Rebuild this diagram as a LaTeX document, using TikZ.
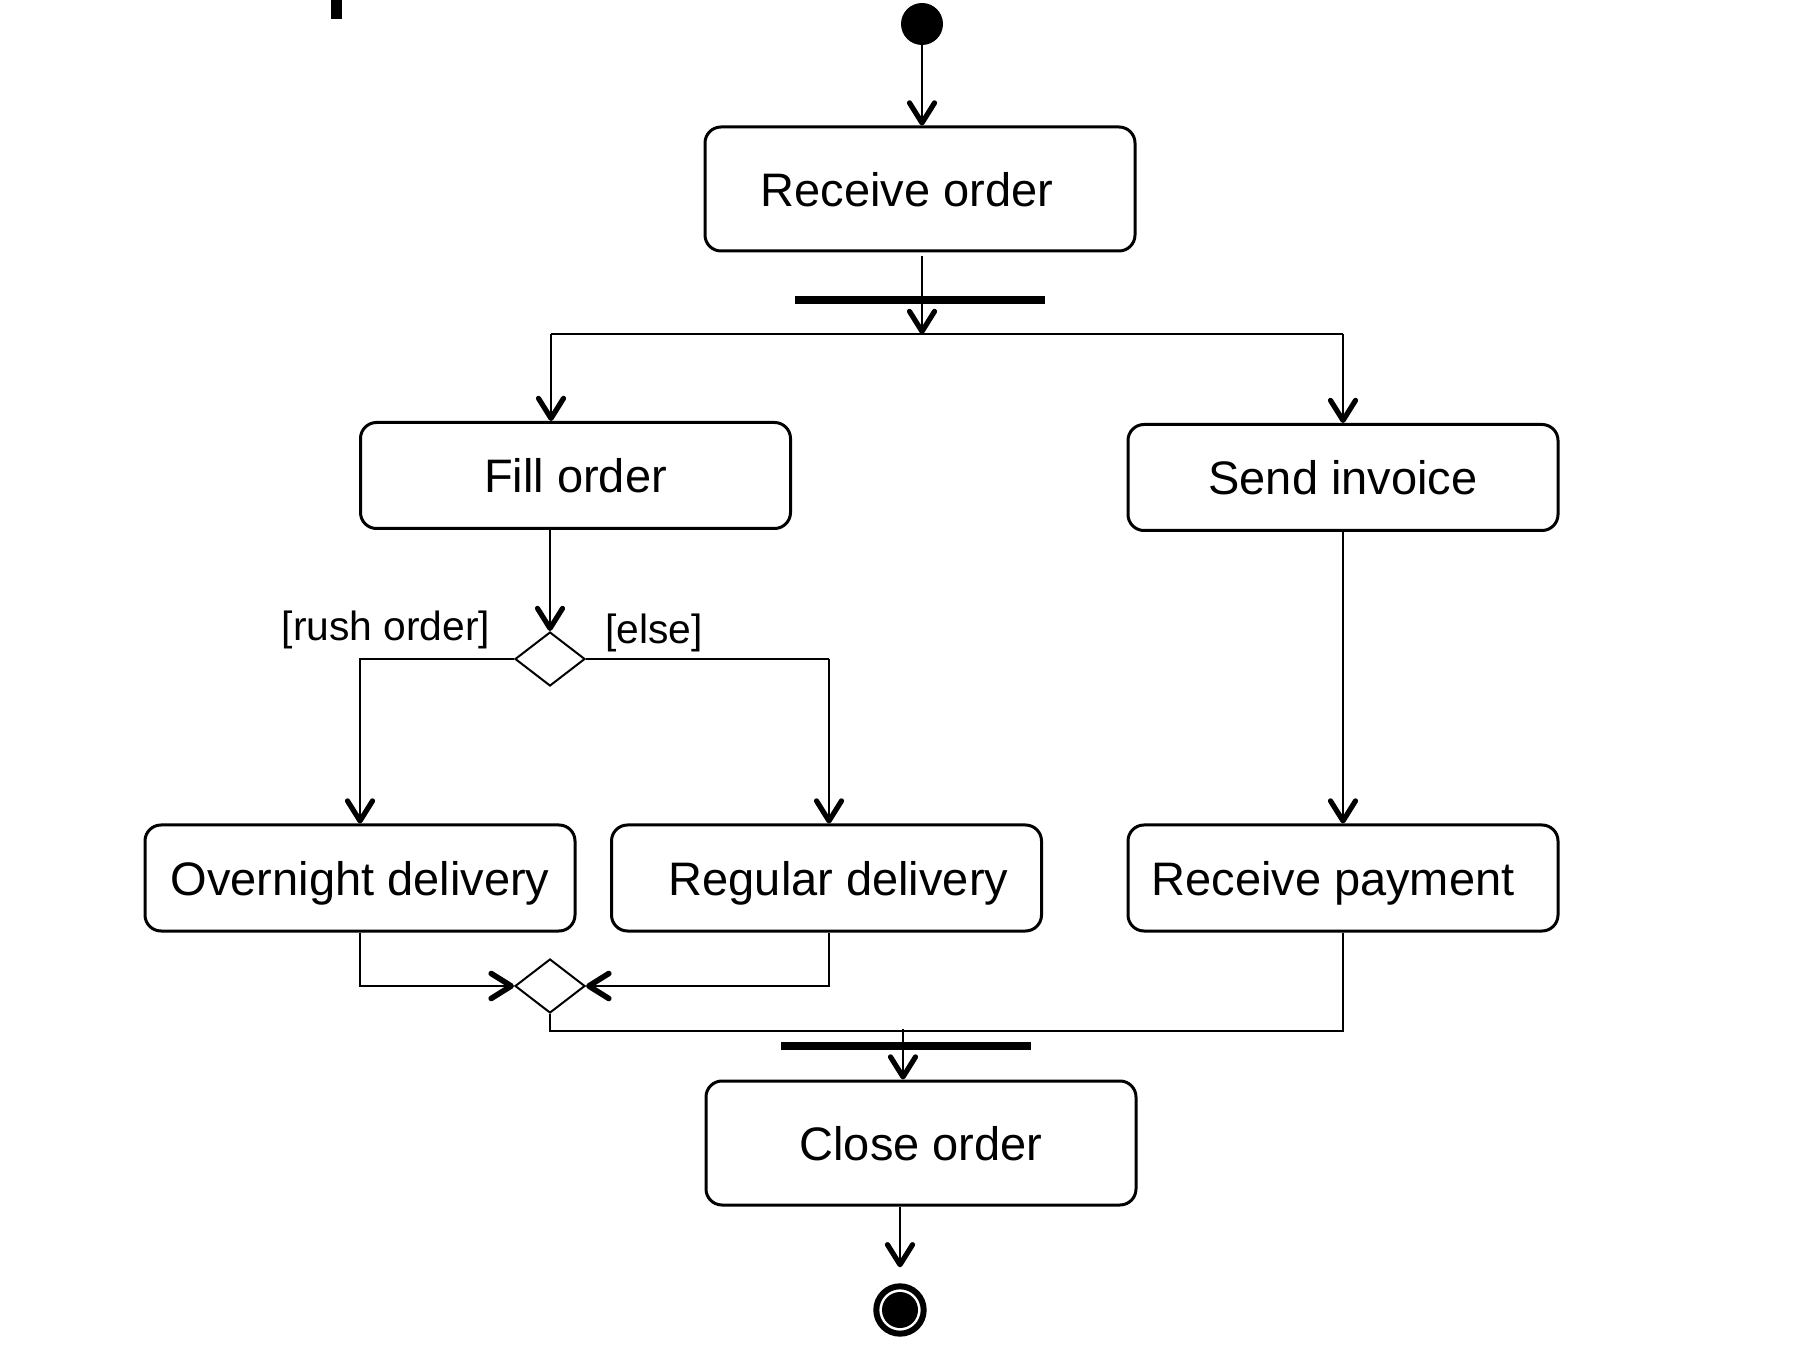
\documentclass[tikz,border=0pt]{standalone}
\usepackage{fontspec}
\setmainfont{Liberation Sans}
\usetikzlibrary{arrows.meta,shapes.geometric,calc}
\begin{document}
\begin{tikzpicture}[x=0.5pt,y=-0.5pt,
  act/.style={draw, line width=1.5pt, rounded corners=8pt, minimum width=215pt, minimum height=53pt, inner sep=0pt, text depth=0pt, font=\fontsize{23.5}{28}\selectfont},
  tallact/.style={act, minimum height=62pt},
  conn/.style={line width=1.1pt},
  arr/.style={conn, -{Straight Barb[length=10pt,width=12.5pt,line width=2.6pt 0 1,round]}},
  boldarr/.style={conn, -{Straight Barb[length=10pt,width=12.5pt,line width=2.8pt 0 1,round]}},
  syncbar/.style={fill=black, draw=none, rectangle, minimum width=125pt, minimum height=4pt, inner sep=0pt},
  choice/.style={draw, diamond, line width=1pt, minimum width=35pt, minimum height=27pt, inner sep=0pt},
  guard/.style={font=\fontsize{20.4}{24}\selectfont, inner sep=0pt},
  startnode/.style={circle, fill=black, minimum size=21pt, inner sep=0pt},
  endnode/.style={circle, draw, line width=3pt, fill=white, minimum size=23.7pt, inner sep=0pt}
]
\useasboundingbox (0,0) rectangle (1794,1368);
\fill (331,0) rectangle (342,19);

\node[startnode] (init) at (922,24) {};
\node[tallact] (recv) at (920,189) {Receive order\kern13pt};
\node[syncbar] (fork) at (920,300) {};
\node[act] (fill) at (575.5,475.5) {Fill order};
\node[act] (send) at (1343,477.5) {Send invoice};
\node[choice] (dec) at (550,659) {};
\node[act] (over) at (360,878) {Overnight delivery};
\node[act] (reg) at (826.5,878) {\kern12pt Regular delivery};
\node[act] (pay) at (1343,878) {Receive payment\kern10pt};
\node[choice] (merge) at (550,986) {};
\node[syncbar] (join) at (905.5,1046) {};
\node[tallact] (close) at (921,1143) {Close order};
\node[endnode] (final) at (900,1310) {};
\fill (final.center) circle[radius=9pt];

\node[guard] (rush) at (386,629.5) {[rush order]};
\node[guard] (else) at (654,632.5) {[else]};

\coordinate (forkJ) at (922,334);
\coordinate (forkL) at (551,334);
\coordinate (forkR) at (1343,334);
\coordinate (regIn) at (829,659);
\coordinate (payJ) at (1343,1031);
\coordinate (mergeJ) at (550,1031);
\coordinate (joinTop) at (903,1029);

\draw[arr] (init) -- (init |- recv.north);
\draw[arr, shorten <=2pt] (recv.south -| forkJ) -- (forkJ);
\draw[conn] (forkL) -- (forkR);
\draw[arr] (forkL) -- (forkL |- fill.north);
\draw[arr] (forkR) -- (forkR |- send.north);
\draw[arr] (fill.south -| dec.north) -- (dec.north);
\draw[arr] (dec.west) -| (over.north);
\draw[conn] (dec.east) -- (regIn);
\draw[arr] (regIn) -- (regIn |- reg.north);
\draw[arr] (send.south) -- (pay.north);
\draw[boldarr] (over.south) |- (merge.west);
\draw[boldarr] (regIn |- reg.south) |- (merge.east);
\draw[conn] (pay.south) -- (payJ) -- (mergeJ) -- (merge.south);
\draw[arr] (joinTop) -- (joinTop |- close.north);
\draw[arr, shorten >=8pt] (final.north |- close.south) -- (final.north);
\end{tikzpicture}
\end{document}
